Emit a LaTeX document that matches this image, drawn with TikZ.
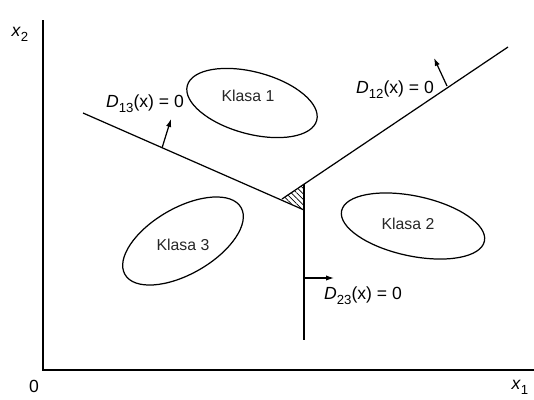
\documentclass[tikz,border=0pt]{standalone}
\usepackage{fontspec}
\setmainfont{Liberation Sans}
\usepackage{tikz}
\usetikzlibrary{arrows.meta,patterns.meta}
\newcommand{\lf}{\fontsize{10}{12}\selectfont}
\newcommand{\kf}{\fontsize{9}{11}\selectfont}
\newcommand{\ix}[1]{\textit{#1}}
\newcommand{\lsub}[1]{\raisebox{-0.55ex}{\fontsize{7.5}{9}\selectfont #1}}
\newcommand{\dlab}[1]{\ix{D}\lsub{#1}(x) = 0}

\begin{document}
\begin{tikzpicture}[x=0.02cm, y=-0.02cm, every node/.style={inner sep=0pt, outer sep=0pt, font=\lf},
  bnd/.style={line width=0.7pt},
  nrm/.style={line width=0.7pt, -{Latex[length=4.5pt,width=3pt]}},
  cls/.style={line width=0.7pt}]
\useasboundingbox (0,0) rectangle (534,399);
% ---- axes
\coordinate (o) at (43,370);
\coordinate (ytop) at (43,20);
\coordinate (xend) at (534,370);
\draw[bnd] (ytop) -- (o) -- (xend);
\node (lx2) at (20,34) {\ix{x}\lsub{2}};
\node (l0) at (34,386) {0};
\node (lx1) at (520,387) {\ix{x}\lsub{1}};
% ---- decision boundaries
\coordinate (a) at (282,199);
\coordinate (b) at (304,184);
\coordinate (c) at (304,210);
\coordinate (s13) at (83,113);
\coordinate (e12) at (508,47);
\coordinate (e23) at (304,340);
\fill[pattern={Lines[angle=-45,distance=2.2pt,line width=0.4pt]}] (a) -- (b) -- (c) -- cycle;
\draw[bnd] (s13) -- (c);
\draw[bnd] (a) -- (e12);
\draw[bnd] (b) -- (e23);
% normals
\coordinate (n13a) at (162,148);
\coordinate (n13b) at (171,119);
\coordinate (n12a) at (447,86);
\coordinate (n12b) at (434,58);
\coordinate (n23a) at (304,278);
\coordinate (n23b) at (334,278);
\draw[nrm] (n13a) -- (n13b);
\draw[nrm] (n12a) -- (n12b);
\draw[nrm] (n23a) -- (n23b);
\node (d13) at (145,104) {\dlab{13}};
\node (d12) at (395,90) {\dlab{12}};
\node (d23) at (363,296) {\dlab{23}};
% ---- classes
\coordinate (e1) at (252,103);
\coordinate (e2) at (413,226);
\coordinate (e3) at (183,241);
\draw[cls, rotate around={-15:(e1)}] (e1) ellipse (67 and 31);
\draw[cls, rotate around={-12:(e2)}] (e2) ellipse (73 and 30);
\draw[cls, rotate around={30:(e3)}] (e3) ellipse (67 and 33);
\node[font=\kf, text=black!85] (k1) at (248,96) {Klasa 1};
\node[font=\kf, text=black!85] (k2) at (408,224) {Klasa 2};
\node[font=\kf, text=black!85] (k3) at (183,245) {Klasa 3};
\end{tikzpicture}
\end{document}
